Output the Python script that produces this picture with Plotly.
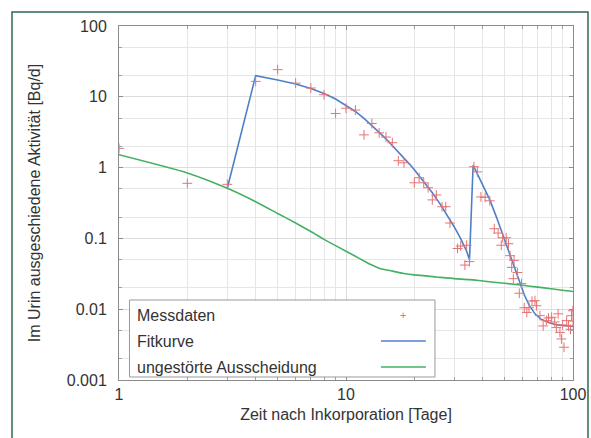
import plotly.graph_objects as go

# Messdaten (measured points)
mess_x = [1, 2, 3, 4, 5, 6, 7, 8, 9, 10, 11, 12, 13, 14, 15, 16, 17, 18, 20, 21, 22, 23,
          24, 25, 26.5, 27.5, 28.7, 31, 32, 34, 33.4, 35, 36.6, 37.9, 39.3, 41, 43, 45,
          46.8, 48.3, 49, 50.8, 52, 52.8, 55, 53.7, 56.9, 54.6, 59.3, 58, 62.6, 61, 64,
          66, 68, 69, 71.5, 73.9, 76.3, 78, 80.5, 83, 84.5, 86, 87.6, 88.9, 91.3, 93.8,
          95.6, 97.5, 98.5, 99.9, 90, 100]
mess_y = [1.87, 0.6, 0.58, 16.5, 24.2, 15.6, 13.3, 10.7, 5.8, 6.9, 6.5, 2.9, 4.2, 3.1, 2.7,
          2.25, 1.25, 1.17, 0.61, 0.72, 0.61, 0.52, 0.35, 0.41, 0.28, 0.28, 0.165, 0.072,
          0.078, 0.08, 0.042, 0.047, 1.03, 0.87, 0.385, 0.38, 0.34, 0.137, 0.119, 0.08,
          0.102, 0.102, 0.084, 0.057, 0.049, 0.039, 0.033, 0.027, 0.023, 0.0168, 0.009,
          0.0105, 0.0105, 0.013, 0.0132, 0.0112, 0.0081, 0.0058, 0.0069, 0.0075, 0.0077,
          0.0066, 0.0055, 0.0086, 0.0047, 0.0038, 0.0029, 0.0069, 0.0058, 0.0052, 0.0081,
          0.0095, 0.006, 0.0068]

# Fitkurve
fit_x = [3, 4, 5, 6, 7, 8, 9, 10, 11, 12, 13, 14, 15, 16, 17, 18, 19, 20, 22, 24, 26, 28,
         30, 32, 34, 35, 36.3, 38, 40, 43, 46, 49, 52, 55, 58, 61, 64, 68, 72, 78, 85, 92,
         100]
fit_y = [0.51, 19.9, 17.3, 15.2, 13.1, 11.1, 9.3, 7.6, 6.2, 4.95, 3.95, 3.15, 2.55, 2.05,
         1.68, 1.38, 1.13, 0.93, 0.64, 0.44, 0.305, 0.21, 0.145, 0.099, 0.066, 0.05, 1.08,
         0.8, 0.57, 0.35, 0.2, 0.115, 0.068, 0.042, 0.025, 0.016, 0.0115, 0.0086, 0.0073,
         0.0065, 0.006, 0.0058, 0.0057]

# ungestörte Ausscheidung
und_x = [1, 2, 3, 4, 5, 6, 7, 8, 9, 10, 11, 12, 13, 14, 16, 18, 20, 25, 30, 35, 40, 50, 60,
         70, 80, 90, 100]
und_y = [1.52, 0.84, 0.51, 0.33, 0.225, 0.165, 0.125, 0.097, 0.079, 0.066, 0.056, 0.048,
         0.042, 0.038, 0.0345, 0.032, 0.0305, 0.0285, 0.027, 0.0262, 0.025, 0.0232, 0.0218,
         0.0205, 0.0195, 0.0185, 0.0178]

x_ticks = [1, 10, 100]
x_labels = ["1", "10", "100"]
y_ticks = [0.001, 0.01, 0.1, 1, 10, 100]
y_labels = ["0.001", "0.01", "0.1", "1", "10", "100"]
legend_names = ["Messdaten", "Fitkurve", "ungestörte Ausscheidung"]

RED = "#e57373"
BLUE = "#4f7fc9"
GREEN = "#45b065"
FONT = "Liberation Sans, Arial, sans-serif"

x_minor = [m * 10 ** d for d in range(0, 2) for m in range(2, 10)]
y_minor = [m * 10 ** d for d in range(-3, 2) for m in (2, 5)]

fig = go.Figure()
fig.add_trace(go.Scatter(x=und_x, y=und_y, mode="lines", name=legend_names[2],
                         line=dict(color=GREEN, width=1.6, shape="spline", smoothing=0.6)))
fig.add_trace(go.Scatter(x=fit_x, y=fit_y, mode="lines", name=legend_names[1],
                         line=dict(color=BLUE, width=1.6)))
fig.add_trace(go.Scatter(x=mess_x, y=mess_y, mode="markers", name=legend_names[0],
                         marker=dict(symbol="cross-thin", size=7,
                                     line=dict(color=RED, width=1), color=RED)))

axis_common = dict(type="log", showline=True, linecolor="#8c8c8c", linewidth=1,
                   mirror="allticks", ticks="inside", ticklen=4, tickcolor="#8c8c8c",
                   showgrid=True, gridcolor="#dcdcdc", gridwidth=1, zeroline=False,
                   automargin=False,
                   tickfont=dict(family=FONT, size=16, color="#333333"))

fig.update_xaxes(range=[0, 2], tickvals=x_ticks, ticktext=x_labels,
                 minor=dict(tickvals=x_minor, showgrid=True, gridcolor="#e6e6e6",
                            ticks="inside", ticklen=3, tickcolor="#a0a0a0"),
                 title=dict(text="Zeit nach Inkorporation [Tage]", standoff=6,
                            font=dict(family=FONT, size=16, color="#333333")),
                 **axis_common)
fig.update_yaxes(range=[-3, 2], tickvals=y_ticks, ticktext=y_labels,
                 minor=dict(tickvals=y_minor, showgrid=True, gridcolor="#e6e6e6",
                            ticks="inside", ticklen=3, tickcolor="#a0a0a0"),
                 ticklabelstandoff=8,
                 title=dict(text="Im Urin ausgeschiedene Aktivität [Bq/d]", standoff=22,
                            font=dict(family=FONT, size=16, color="#333333")),
                 **axis_common)

# Custom legend (text left, symbol right)
shapes = [
    dict(type="rect", xref="paper", yref="paper", x0=0.0231, x1=0.696, y0=0.0085, y1=0.226,
         line=dict(color="#9a9a9a", width=1), fillcolor="white", layer="above"),
    dict(type="line", xref="paper", yref="paper", x0=0.577, x1=0.676, y0=0.110, y1=0.110,
         line=dict(color=BLUE, width=1.6), layer="above"),
    dict(type="line", xref="paper", yref="paper", x0=0.577, x1=0.676, y0=0.0367, y1=0.0367,
         line=dict(color=GREEN, width=1.6), layer="above"),
    # outer dark green frame
    dict(type="rect", xref="paper", yref="paper", x0=-0.2357, x1=1.033, y0=-0.25, y1=1.0395,
         line=dict(color="#2e6a4c", width=1.5), layer="above"),
]
annotations = []
for name, yy in zip(legend_names, [0.1836, 0.110, 0.0367]):
    annotations.append(dict(xref="paper", yref="paper", x=0.0352, y=yy, text=name,
                            showarrow=False, xanchor="left", yanchor="middle",
                            font=dict(family=FONT, size=16, color="#333333")))
annotations.append(dict(xref="paper", yref="paper", x=0.6256, y=0.1836, text="+",
                        showarrow=False, xanchor="center", yanchor="middle",
                        font=dict(family=FONT, size=11, color=RED)))

fig.update_layout(width=591, height=438, margin=dict(l=119, r=18, t=26, b=58),
                  paper_bgcolor="white", plot_bgcolor="white", showlegend=False,
                  shapes=shapes, annotations=annotations,
                  font=dict(family=FONT, size=16, color="#333333"))

fig.write_html(
    "out.html", config={"displayModeBar": False},
    post_script=("document.body.style.margin='0';"
                 "document.body.style.overflow='hidden';"
                 "document.documentElement.style.overflow='hidden';"))
